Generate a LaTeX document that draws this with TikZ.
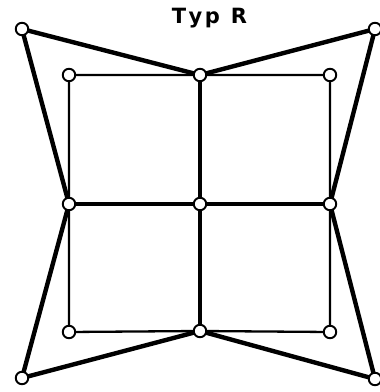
\documentclass[tikz,border=0pt]{standalone}
\usepackage{fontspec}
\setmainfont{DejaVu Sans}
\begin{document}
\begin{tikzpicture}[x=1pt,y=-1pt,
  joint/.style={circle,draw,fill=white,line width=1.9pt,minimum size=12.5pt,inner sep=0pt},
  outerbar/.style={line width=4.4pt},
  crossbar/.style={line width=3.4pt},
  framebar/.style={line width=2.3pt}]
\useasboundingbox (0,0) rectangle (380,392);
\node[font=\bfseries\fontsize{21}{21}\selectfont,anchor=base,inner sep=0pt] (title) at (209.5,23.5) {T\hspace{2.5pt}y\hspace{2.5pt}p\hspace{11pt}R};
% coordinates
\coordinate (oTL) at (22,29);
\coordinate (oTR) at (375,29);
\coordinate (oBL) at (22,378);
\coordinate (oBR) at (375,379);
\coordinate (iTL) at (69,75);
\coordinate (iTM) at (200,75);
\coordinate (iTR) at (330,75);
\coordinate (iML) at (69,204);
\coordinate (iMM) at (200,204);
\coordinate (iMR) at (330,204);
\coordinate (iBL) at (69,332);
\coordinate (iBM) at (200,331);
\coordinate (iBR) at (330,332);
% frame (thin)
\draw[framebar] (iTL) -- (iTM) -- (iTR) -- (iMR) -- (iBR) -- (iBM) -- (iBL) -- (iML) -- cycle;
% cross
\draw[crossbar] (iTM) -- (iMM) -- (iBM);
\draw[crossbar] (iML) -- (iMM) -- (iMR);
% outer
\draw[outerbar,line join=round] (oTL) -- (iTM) -- (oTR) -- (iMR) -- (oBR) -- (iBM) -- (oBL) -- (iML) -- cycle;
% joints
\foreach \p in {oTL,oTR,oBL,oBR,iTL,iTM,iTR,iML,iMM,iMR,iBL,iBM,iBR}
  \node[joint] (n\p) at (\p) {};
\end{tikzpicture}
\end{document}
